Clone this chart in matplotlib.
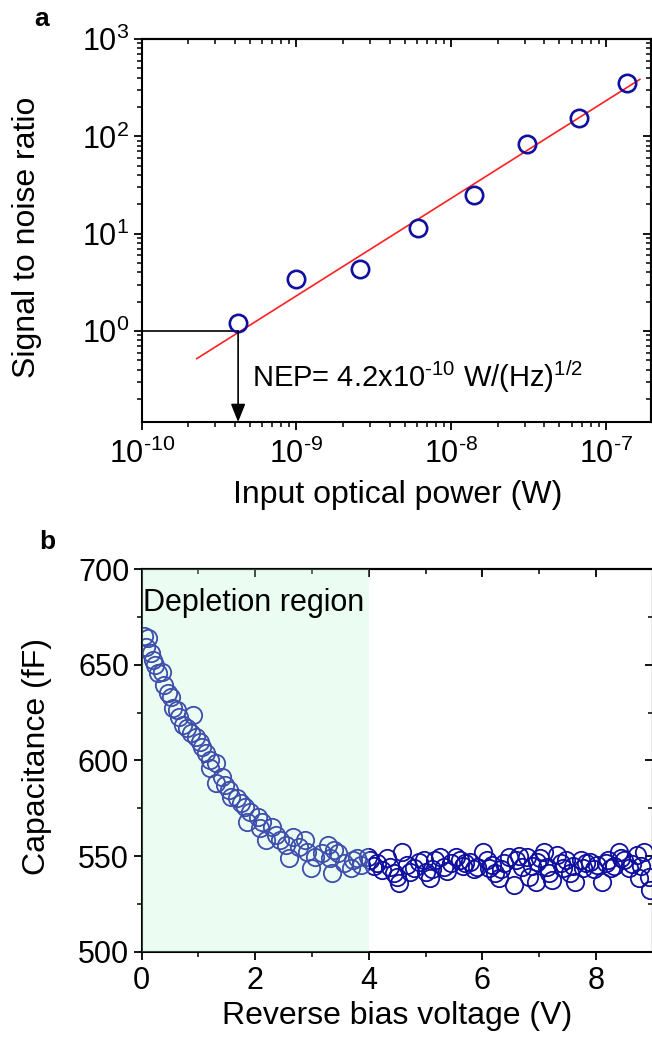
import numpy as np
import matplotlib
matplotlib.use("Agg")
import matplotlib.pyplot as plt
from matplotlib.ticker import LogLocator, FuncFormatter, MultipleLocator, NullFormatter

plt.rcParams["font.family"] = "Liberation Sans"
plt.rcParams["mathtext.fontset"] = "custom"
plt.rcParams["mathtext.rm"] = "Liberation Sans"
plt.rcParams["mathtext.it"] = "Liberation Sans:italic"
plt.rcParams["mathtext.bf"] = "Liberation Sans:bold"

# --- panel a: SNR vs optical power ---
power_w = [4.2e-10, 1.0e-9, 2.56e-9, 6.1e-9, 1.4e-8, 3.1e-8, 6.7e-8, 1.38e-7]
snr = [1.22, 3.4, 4.35, 11.4, 24.7, 83, 155, 350]
fit_power = [2.27e-10, 1.66e-7]
fit_snr = [0.52, 385]
nep_power = 4.2e-10
nep_text = r"NEP= 4.2x10$^{\text{-}10}$ W/(Hz)$^{1/2}$"

# --- panel b: capacitance vs reverse bias ---
volt = [0.04, 0.07, 0.11, 0.16, 0.20, 0.23, 0.29, 0.36, 0.40, 0.47, 0.51, 0.55, 0.62, 0.66,
        0.73, 0.80, 0.86, 0.90, 0.95, 1.02, 1.06, 1.13, 1.20, 1.20, 1.31, 1.31, 1.42, 1.46,
        1.53, 1.57, 1.68, 1.75, 1.82, 1.86, 1.90, 2.04, 2.08, 2.12, 2.19, 2.30, 2.37, 2.44,
        2.55, 2.59, 2.66, 2.77, 2.88, 2.92, 2.99, 3.06, 3.17, 3.28, 3.32, 3.36, 3.39, 3.46,
        3.57, 3.68, 3.72, 3.79, 3.87, 3.98,
        4.03, 4.09, 4.14, 4.23, 4.32, 4.38, 4.45, 4.50, 4.53, 4.59, 4.67, 4.73, 4.79, 4.88,
        4.97, 5.00, 5.08, 5.12, 5.17, 5.26, 5.32, 5.38, 5.44, 5.53, 5.61, 5.66, 5.70, 5.79,
        5.85, 5.91, 6.02, 6.08, 6.12, 6.17, 6.23, 6.29, 6.33, 6.38, 6.47, 6.55, 6.60, 6.65,
        6.70, 6.79, 6.82, 6.88, 6.94, 6.97, 7.02, 7.08, 7.14, 7.18, 7.23, 7.32, 7.38, 7.42,
        7.47, 7.55, 7.60, 7.64, 7.73, 7.78, 7.82, 7.90, 7.96, 8.02, 8.11, 8.17, 8.22, 8.26,
        8.32, 8.41, 8.45, 8.49, 8.58, 8.64, 8.73, 8.76, 8.80, 8.85, 8.93, 8.96]
cap_ff = [665.0, 659.4, 663.8, 656.0, 652.4, 649.8, 645.5, 646.3, 639.4, 635.0, 633.3, 627.2,
          626.3, 622.8, 618.5, 616.7, 614.1, 623.7, 612.4, 609.8, 607.1, 603.7, 600.2, 595.8,
          598.4, 588.0, 591.5, 587.1, 584.5, 581.0, 580.1, 577.5, 575.8, 567.9, 573.2, 570.6,
          564.5, 567.9, 558.4, 565.3, 561.0, 558.4, 555.7, 548.8, 560.1, 554.9, 558.4, 552.3,
          543.6, 549.7, 551.4, 555.7, 548.8, 541.0, 553.1, 551.4, 546.2, 543.6, 547.9, 548.8,
          545.3, 549.7,
          548.0, 545.0, 546.2, 542.7, 548.8, 544.4, 541.0, 539.2, 535.8, 552.3, 545.3, 541.5,
          543.6, 547.0, 547.9, 541.8, 538.4, 543.0, 547.9, 549.7, 544.4, 542.0, 546.2, 549.7,
          547.9, 545.0, 546.2, 547.0, 543.0, 544.4, 552.3, 547.9, 544.0, 545.3, 541.0, 538.4,
          543.0, 546.2, 549.7, 534.9, 547.9, 550.0, 544.4, 549.7, 539.2, 545.0, 536.6, 547.0,
          549.0, 552.3, 544.4, 541.0, 537.5, 550.6, 546.2, 544.0, 547.9, 541.0, 545.0, 536.6,
          547.9, 544.0, 546.2, 547.0, 543.0, 545.3, 536.6, 546.2, 548.0, 543.6, 545.0, 552.3,
          549.0, 547.9, 543.6, 546.0, 550.6, 538.4, 545.0, 552.3, 539.2, 532.3]
depletion_end = 4.0

tick_fs = 22
label_fs = 23


def pow10_label(v, pos):
    # Origin style: plain hyphen in the exponent
    e = int(round(np.log10(v)))
    if e < 0:
        return r"10$^{\text{-}%d}$" % (-e)
    return r"10$^{%d}$" % e


fig = plt.figure(figsize=(6.52, 10.38), dpi=100)
ax1 = fig.add_axes([0.2173, 0.5934, 0.7807, 0.369])
ax2 = fig.add_axes([0.2173, 0.0831, 0.7837, 0.3687])


def style_axis(ax):
    for s in ax.spines.values():
        s.set_linewidth(1.5)
    ax.tick_params(which="major", direction="out", length=6, width=1.3,
                   labelsize=tick_fs, pad=3, top=False, right=False)
    ax.tick_params(which="minor", direction="out", length=3.5, width=1.1,
                   top=False, right=False)


def mirror_ticks(ax):
    top = ax.secondary_xaxis("top")
    right = ax.secondary_yaxis("right")
    for sec in (top, right):
        sec.tick_params(which="major", direction="in", length=6, width=1.3)
        sec.tick_params(which="minor", direction="in", length=3.5, width=1.1)
    top.tick_params(labeltop=False, which="both")
    right.tick_params(labelright=False, which="both")
    top.spines["top"].set_linewidth(1.5)
    right.spines["right"].set_linewidth(1.5)
    return top, right


# ---- panel a ----
ax1.set_xscale("log")
ax1.set_yscale("log")
ax1.set_xlim(1e-10, 1.95e-7)
ax1.set_ylim(0.116, 1000)
ax1.plot(fit_power, fit_snr, color="#ff2020", lw=1.2, zorder=2)
ax1.plot(power_w, snr, "o", ms=12.5, mfc="none", mec="#1010a0", mew=1.9, zorder=3)
ax1.plot([1e-10, nep_power], [1, 1], color="black", lw=1.2, zorder=2)
ax1.annotate("", xy=(nep_power, 0.116), xytext=(nep_power, 1),
             arrowprops=dict(arrowstyle="-|>,head_length=0.55,head_width=0.22",
                             mutation_scale=20, color="black", lw=1.2,
                             shrinkA=0, shrinkB=0))
ax1.text(5.17e-10, 0.266, nep_text, fontsize=21, va="baseline", ha="left")
ax1.xaxis.set_major_locator(LogLocator(base=10))
ax1.yaxis.set_major_locator(LogLocator(base=10))
ax1.xaxis.set_major_formatter(FuncFormatter(pow10_label))
ax1.yaxis.set_major_formatter(FuncFormatter(pow10_label))
ax1.xaxis.set_minor_locator(LogLocator(base=10, subs=np.arange(2, 10)))
ax1.yaxis.set_minor_locator(LogLocator(base=10, subs=np.arange(2, 10)))
ax1.xaxis.set_minor_formatter(NullFormatter())
ax1.yaxis.set_minor_formatter(NullFormatter())
style_axis(ax1)
ax1.tick_params(axis="x", which="major", pad=6)
mirror_ticks(ax1)
ax1.set_xlabel("Input optical power (W)", fontsize=label_fs)
ax1.set_ylabel("Signal to noise ratio", fontsize=label_fs)
ax1.xaxis.set_label_coords(0.503, -0.151)
ax1.yaxis.set_label_coords(-0.196, 0.483)
fig.text(42 / 652, 1 - 19 / 1038, "a", fontsize=19, fontweight="bold",
         ha="center", va="center")

# ---- panel b ----
ax2.set_xlim(0, 9)
ax2.set_ylim(500, 700)
ax2.plot(volt, cap_ff, "o", ms=12.5, mfc="none", mec="#1010a0", mew=1.3, zorder=2)
ax2.axvspan(0, depletion_end, color="#b7f7cf", alpha=0.27, lw=0, zorder=3)
ax2.text(0.03, 682, "Depletion region", fontsize=22, va="center", ha="left", zorder=4)
ax2.xaxis.set_major_locator(MultipleLocator(2))
ax2.xaxis.set_minor_locator(MultipleLocator(1))
ax2.yaxis.set_major_locator(MultipleLocator(50))
ax2.yaxis.set_minor_locator(MultipleLocator(25))
style_axis(ax2)
ax2.tick_params(axis="x", which="major", pad=4)
top2, right2 = mirror_ticks(ax2)
top2.xaxis.set_major_locator(MultipleLocator(2))
top2.xaxis.set_minor_locator(MultipleLocator(1))
right2.yaxis.set_major_locator(MultipleLocator(50))
right2.yaxis.set_minor_locator(MultipleLocator(25))
ax2.set_xlabel("Reverse bias voltage (V)", fontsize=label_fs)
ax2.set_ylabel("Capacitance (fF)", fontsize=label_fs)
ax2.xaxis.set_label_coords(0.5, -0.129)
ax2.yaxis.set_label_coords(-0.176, 0.509)
fig.text(47 / 652, 1 - 542 / 1038, "b", fontsize=19, fontweight="bold",
         ha="center", va="center")

fig.savefig("out.png", dpi=100)
